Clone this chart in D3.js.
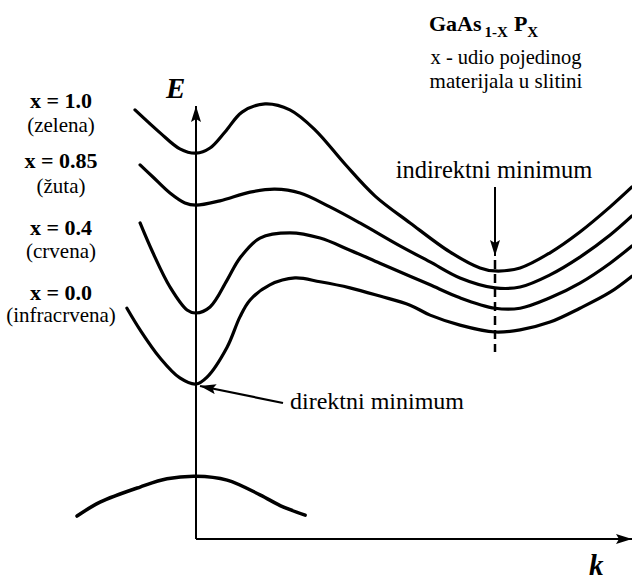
<!DOCTYPE html>
<html>
<head>
<meta charset="utf-8">
<script src="https://cdn.jsdelivr.net/npm/d3@7"></script>
<style>
  body { margin: 0; background: #fff; }
  svg { display: block; }
  svg text { font-family: "Liberation Serif", Tinos, "Times New Roman", "DejaVu Serif", serif; }
</style>
</head>
<body>
<div id="svg_area"></div>
<script>
// Band curves E(k) for GaAs(1-x)P(x); k = 1 is the indirect (X) minimum, E in arbitrary units
var bandX1 = [[-0.204, 99.1], [-0.120, 93.8], [-0.054, 90.1], [0, 89.1], [0.047, 90.3], [0.097, 94.0],
  [0.154, 98.6], [0.231, 100.5], [0.314, 99.1], [0.398, 94.5], [0.498, 86.6], [0.599, 79.2],
  [0.716, 73.0], [0.849, 66.3], [0.950, 62.6], [1.0, 61.9], [1.084, 62.6], [1.184, 66.1],
  [1.284, 70.9], [1.385, 76.7], [1.458, 81.3]];
var bandX085 = [[-0.187, 86.4], [-0.144, 83.6], [-0.087, 79.9], [-0.037, 77.6], [0, 77.1], [0.080, 78.1],
  [0.181, 80.1], [0.264, 80.8], [0.348, 79.9], [0.448, 76.7], [0.548, 73.0], [0.682, 67.7],
  [0.783, 64.0], [0.883, 60.3], [1.0, 58.0], [1.084, 58.2], [1.184, 61.0], [1.284, 65.1],
  [1.385, 70.2], [1.458, 74.6]];
var bandX04 = [[-0.187, 73.0], [-0.144, 66.1], [-0.087, 58.2], [-0.030, 52.9], [0, 52.2], [0.047, 53.6],
  [0.104, 59.8], [0.147, 64.9], [0.214, 69.5], [0.314, 70.7], [0.415, 69.5], [0.515, 66.7],
  [0.615, 63.7], [0.716, 60.7], [0.783, 58.7], [0.883, 55.7], [1.0, 53.3], [1.084, 53.3],
  [1.184, 55.7], [1.284, 59.1], [1.385, 63.7], [1.458, 67.7]];
var bandX0 = [[-0.231, 53.3], [-0.187, 48.3], [-0.120, 41.8], [-0.054, 37.2], [0, 35.8], [0.037, 37.4],
  [0.104, 44.3], [0.147, 51.3], [0.181, 55.2], [0.247, 58.7], [0.331, 60.3], [0.415, 59.4],
  [0.515, 58.0], [0.615, 56.1], [0.716, 54.0], [0.783, 51.7], [0.883, 49.4], [1.0, 47.8],
  [1.084, 48.3], [1.184, 50.1], [1.284, 53.3], [1.385, 57.0], [1.458, 60.7]];
var valenceBand = [[-0.398, 5.3], [-0.321, 8.5], [-0.187, 12.0], [-0.097, 13.9], [0, 14.5],
  [0.104, 13.6], [0.214, 10.2], [0.291, 7.4], [0.365, 5.5]];

var conductionBands = [bandX1, bandX085, bandX04, bandX0];
var xValues = ["x = 1.0", "x = 0.85", "x = 0.4", "x = 0.0"];
var colourNames = ["(zelena)", "(žuta)", "(crvena)", "(infracrvena)"];
var indirectK = 1.0;

var svgWidth = 632;
var svgHeight = 581;

var svg = d3.select("#svg_area")
  .append("svg")
  .attr("width", svgWidth)
  .attr("height", svgHeight);

// k = 0 sits on the E axis, E = 0 on the k axis
var xScale = d3.scaleLinear().domain([0, 1]).range([196, 495]);
var yScale = d3.scaleLinear().domain([0, 100]).range([539, 106]);

var defs = svg.append("defs");
defs.append("marker")
  .attr("id", "head")
  .attr("viewBox", "0 0 16 10")
  .attr("refX", 16).attr("refY", 5)
  .attr("markerWidth", 16).attr("markerHeight", 10)
  .attr("markerUnits", "userSpaceOnUse")
  .attr("orient", "auto")
  .append("path")
  .attr("d", "M0,0 L16,5 L0,10 L3,5 Z")
  .attr("fill", "#000");

// axes
svg.append("line")
  .attr("x1", xScale(0)).attr("y1", yScale(0))
  .attr("x2", xScale(0)).attr("y2", yScale(100))
  .attr("stroke", "#000").attr("stroke-width", 2)
  .attr("marker-end", "url(#head)");
svg.append("line")
  .attr("x1", xScale(0)).attr("y1", yScale(0))
  .attr("x2", svgWidth).attr("y2", yScale(0))
  .attr("stroke", "#000").attr("stroke-width", 2)
  .attr("marker-end", "url(#head)");

var line = d3.line()
  .x(d => xScale(d[0]))
  .y(d => yScale(d[1]))
  .curve(d3.curveCatmullRom.alpha(0.5));

svg.selectAll(".band")
  .data(conductionBands)
  .enter()
  .append("path")
  .attr("class", "band")
  .attr("d", line)
  .attr("fill", "none")
  .attr("stroke", "#000")
  .attr("stroke-width", 3.2)
  .attr("stroke-linecap", "round");

svg.append("path")
  .attr("d", line(valenceBand))
  .attr("fill", "none")
  .attr("stroke", "#000")
  .attr("stroke-width", 3.5)
  .attr("stroke-linecap", "round");

// indirect minimum marker
svg.append("line")
  .attr("x1", xScale(indirectK)).attr("x2", xScale(indirectK))
  .attr("y1", 260).attr("y2", 352)
  .attr("stroke", "#000").attr("stroke-width", 2.5)
  .attr("stroke-dasharray", "9,5");
svg.append("line")
  .attr("x1", xScale(indirectK)).attr("x2", xScale(indirectK))
  .attr("y1", 187).attr("y2", 256)
  .attr("stroke", "#000").attr("stroke-width", 2)
  .attr("marker-end", "url(#head)");
svg.append("text")
  .attr("x", xScale(indirectK) - 1).attr("y", 178)
  .attr("text-anchor", "middle")
  .attr("font-size", "24.5px")
  .text("indirektni minimum");

// direct minimum arrow
var directMin = bandX0.find(d => d[0] === 0);
svg.append("line")
  .attr("x1", 283).attr("y1", 403)
  .attr("x2", xScale(directMin[0]) + 4).attr("y2", yScale(directMin[1]) + 2)
  .attr("stroke", "#000").attr("stroke-width", 2.2)
  .attr("marker-end", "url(#head)");
svg.append("text")
  .attr("x", 290).attr("y", 409)
  .attr("font-size", "24px")
  .text("direktni minimum");

// axis labels
svg.append("text")
  .attr("x", 166).attr("y", 98)
  .attr("font-size", "29px")
  .attr("font-weight", "bold").attr("font-style", "italic")
  .text("E");
svg.append("text")
  .attr("x", 589).attr("y", 575)
  .attr("font-size", "29px")
  .attr("font-weight", "bold").attr("font-style", "italic")
  .text("k");

// composition labels on the left
var labelTop = [108, 168, 235, 300];
var labelSub = [132, 193, 258, 322];
var labels = svg.selectAll(".xlabel")
  .data(xValues)
  .enter()
  .append("g")
  .attr("class", "xlabel");
labels.append("text")
  .attr("x", 61).attr("y", (d, i) => labelTop[i])
  .attr("text-anchor", "middle")
  .attr("font-size", "22px")
  .attr("font-weight", "bold")
  .text(d => d);
labels.append("text")
  .attr("x", 61).attr("y", (d, i) => labelSub[i])
  .attr("text-anchor", "middle")
  .attr("font-size", "21px")
  .text((d, i) => colourNames[i]);

// title block
var title = svg.append("text")
  .attr("x", 429).attr("y", 31)
  .attr("font-size", "22px")
  .attr("font-weight", "bold");
title.append("tspan").text("GaAs");
title.append("tspan").attr("dy", 6).attr("dx", 3).attr("font-size", "15px").text("1-X");
title.append("tspan").attr("dy", -6).attr("dx", 6).text("P");
title.append("tspan").attr("dy", 6).attr("font-size", "15px").text("X");

svg.append("text")
  .attr("x", 506).attr("y", 64)
  .attr("text-anchor", "middle")
  .attr("font-size", "20.5px")
  .text("x - udio pojedinog");
svg.append("text")
  .attr("x", 506).attr("y", 88)
  .attr("text-anchor", "middle")
  .attr("font-size", "21px")
  .text("materijala u slitini");
</script>
</body>
</html>
